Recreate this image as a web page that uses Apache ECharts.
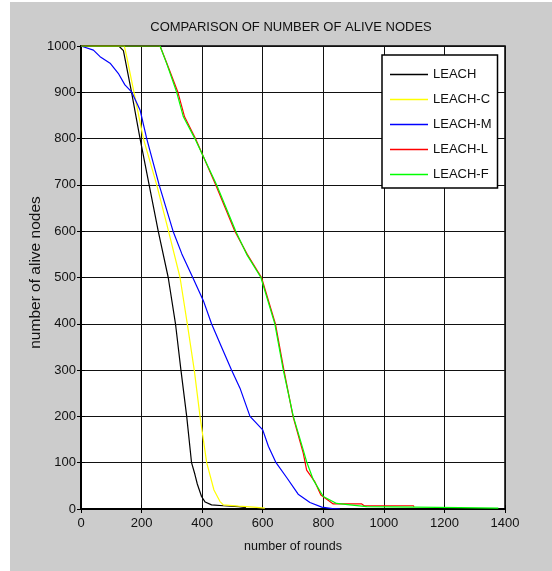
<!DOCTYPE html>
<html>
<head>
<meta charset="utf-8">
<script src="https://cdn.jsdelivr.net/npm/echarts@6/dist/echarts.min.js"></script>
<style>
html,body{margin:0;padding:0;background:#fff;}
#c{width:552px;height:571px;}
</style>
</head>
<body>
<div id="c"></div>
<script>
// ---- data ----
var xTicks = [0, 200, 400, 600, 800, 1000, 1200, 1400];
var yTicks = [0, 100, 200, 300, 400, 500, 600, 700, 800, 900, 1000];

var leachX = [0, 125, 140, 167, 195, 225, 255, 288, 312, 330, 349, 365, 376, 384, 398, 410, 431, 470, 520, 545];
var leachY = [1000, 1000, 990, 900, 800, 700, 600, 500, 400, 300, 200, 100, 75, 54, 27, 15, 9, 7, 5, 3];

var leachCX = [0, 143, 150, 175, 206, 250, 289, 327, 351, 374, 393, 415, 439, 459, 470, 520, 570, 607];
var leachCY = [1000, 1000, 980, 900, 800, 700, 600, 500, 400, 300, 200, 100, 41, 16, 9, 6, 4, 2];

var leachMX = [0, 41, 63, 96, 123, 145, 167, 195, 217, 258, 304, 333, 369, 404, 431, 464, 497, 525, 558, 600, 619, 644, 679, 717, 756, 795, 830, 855];
var leachMY = [1000, 991, 977, 963, 941, 916, 901, 862, 800, 700, 600, 551, 500, 450, 400, 350, 300, 261, 200, 171, 135, 100, 68, 32, 14, 4, 1, 0];

var leachLX = [0, 261, 285, 320, 342, 378, 445, 508, 549, 596, 642, 670, 700, 734, 745, 772, 792, 833, 927, 935, 1097, 1100];
var leachLY = [1000, 1000, 960, 900, 847, 800, 700, 600, 550, 500, 400, 300, 200, 120, 84, 59, 30, 11, 11, 7, 7, 5];

var leachFX = [0, 261, 283, 316, 338, 376, 448, 511, 547, 594, 640, 668, 701, 734, 745, 767, 800, 844, 888, 943, 1100, 1250, 1378];
var leachFY = [1000, 1000, 962, 900, 847, 800, 700, 600, 550, 500, 400, 300, 200, 127, 102, 63, 27, 12, 9, 5, 4, 3, 2];

var seriesNames = ['LEACH', 'LEACH-C', 'LEACH-M', 'LEACH-L', 'LEACH-F'];
var seriesColors = ['#000000', '#ffff00', '#0000ff', '#ff0000', '#00ff00'];

function pairs(xs, ys) {
  var out = [];
  for (var i = 0; i < xs.length; i++) out.push([xs[i], ys[i]]);
  return out;
}
var allData = [
  pairs(leachX, leachY),
  pairs(leachCX, leachCY),
  pairs(leachMX, leachMY),
  pairs(leachLX, leachLY),
  pairs(leachFX, leachFY)
];

var FONT = "'Liberation Sans', Arial, sans-serif";

var chart = echarts.init(document.getElementById('c'), null, {renderer: 'canvas'});

var series = seriesNames.map(function (n, i) {
  return {
    name: n,
    type: 'line',
    xAxisIndex: 0,
    yAxisIndex: 0,
    data: allData[i],
    symbol: 'none',
    showSymbol: false,
    animation: false,
    lineStyle: {color: seriesColors[i], width: 1.2},
    itemStyle: {color: seriesColors[i]},
    z: 2 + i
  };
});

chart.setOption({
  animation: false,
  backgroundColor: '#ffffff',
  graphic: [{
    type: 'rect',
    silent: true,
    z: -100,
    shape: {x: 10, y: 2, width: 542, height: 569},
    style: {fill: '#cccccc'}
  }],
  title: {
    text: 'COMPARISON OF NUMBER OF ALIVE NODES',
    left: 291,
    top: 21,
    textAlign: 'center',
    padding: 0,
    textStyle: {fontFamily: FONT, fontSize: 13, fontWeight: 'normal', color: '#111'}
  },
  grid: {
    left: 81, right: 47, top: 46, bottom: 62,
    show: true,
    backgroundColor: '#ffffff',
    borderColor: '#000',
    borderWidth: 1.5,
    containLabel: false
  },
  legend: {
    orient: 'vertical',
    left: 382,
    top: 55,
    data: seriesNames,
    icon: 'path://M0,0 L38,0 L38,1.5 L0,1.5 Z',
    backgroundColor: '#ffffff',
    borderColor: '#000',
    borderWidth: 1.5,
    borderRadius: 0,
    padding: [13, 6, 7, 8],
    itemWidth: 38,
    itemHeight: 14,
    itemGap: 12,
    textStyle: {fontFamily: FONT, fontSize: 13, color: '#111'}
  },
  xAxis: [{
    type: 'value',
    min: 0, max: 1400, interval: 200,
    name: 'number of rounds',
    nameLocation: 'middle',
    nameGap: 31,
    nameMoveOverlap: false,
    nameTextStyle: {fontFamily: FONT, fontSize: 12.5, color: '#111'},
    axisLine: {show: true, onZero: false, lineStyle: {color: '#000', width: 2}},
    axisTick: {show: true, inside: true, length: 4, lineStyle: {color: '#000'}},
    axisLabel: {
      fontFamily: FONT, fontSize: 13, color: '#111', margin: 8,
      formatter: function (v) { return xTicks.indexOf(v) >= 0 ? String(v) : ''; }
    },
    splitLine: {show: true, lineStyle: {color: '#111', width: 1}}
  }, {
    type: 'value',
    position: 'top',
    min: 0, max: 1400, interval: 200,
    axisLine: {show: true, lineStyle: {color: '#000', width: 1.5}},
    axisTick: {show: true, inside: true, length: 4, lineStyle: {color: '#000'}},
    axisLabel: {show: false},
    splitLine: {show: false}
  }],
  yAxis: [{
    type: 'value',
    min: 0, max: 1000, interval: 100,
    name: 'number of alive nodes',
    nameLocation: 'middle',
    nameGap: 37,
    nameMoveOverlap: false,
    nameTextStyle: {fontFamily: FONT, fontSize: 15.5, color: '#111', padding: [0, 0, 0, 10]},
    axisLine: {show: true, onZero: false, lineStyle: {color: '#000', width: 2}},
    axisTick: {show: true, inside: true, length: 4, lineStyle: {color: '#000'}},
    axisLabel: {
      fontFamily: FONT, fontSize: 13, color: '#111', margin: 5,
      formatter: function (v) { return yTicks.indexOf(v) >= 0 ? String(v) : ''; }
    },
    splitLine: {show: true, lineStyle: {color: '#111', width: 1}}
  }, {
    type: 'value',
    position: 'right',
    min: 0, max: 1000, interval: 100,
    axisLine: {show: true, lineStyle: {color: '#000', width: 1.5}},
    axisTick: {show: true, inside: true, length: 4, lineStyle: {color: '#000'}},
    axisLabel: {show: false},
    splitLine: {show: false}
  }],
  series: series
});
</script>
</body>
</html>
